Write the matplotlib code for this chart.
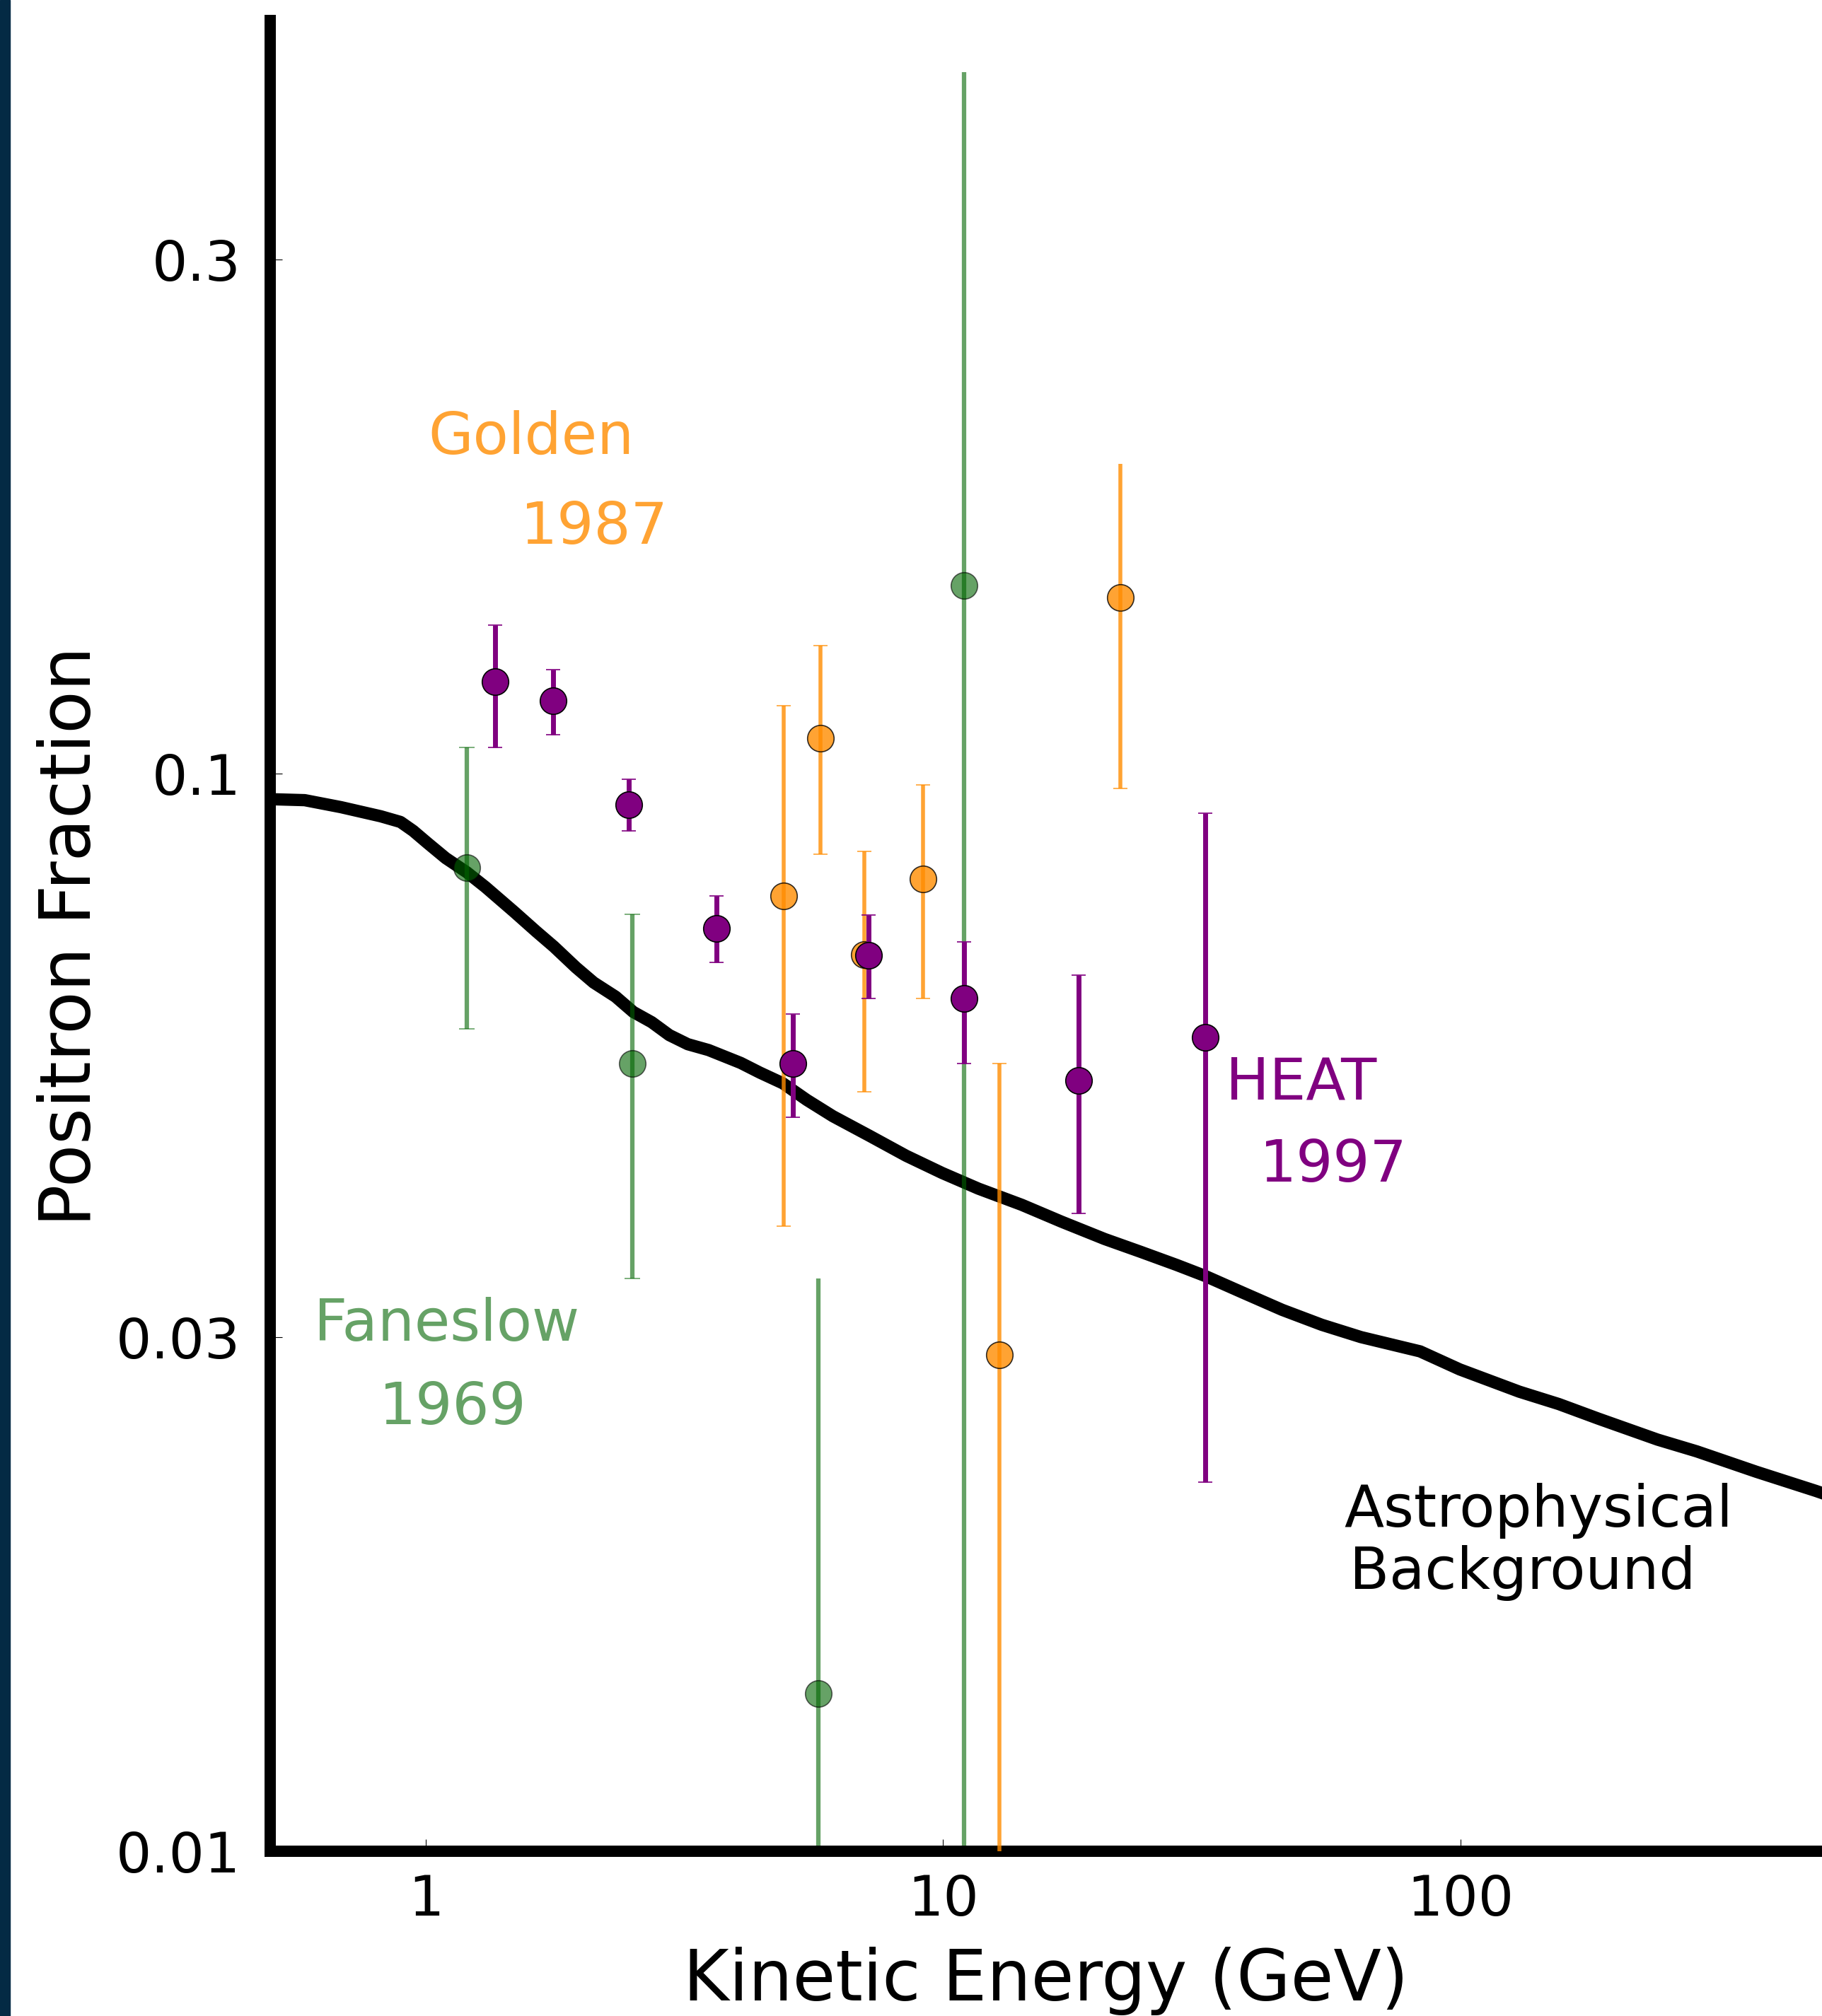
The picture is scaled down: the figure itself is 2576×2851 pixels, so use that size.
import numpy as np
import matplotlib
matplotlib.use('Agg')
import matplotlib.pyplot as plt
from matplotlib.patches import Rectangle

plt.rcParams['font.family'] = ['DejaVu Sans']

# HEAT 1997
heat_e = [1.36, 1.76, 2.47, 3.64, 5.13, 7.18, 10.96, 18.3, 32.1]
heat_f = [0.1218, 0.1169, 0.0936, 0.0718, 0.0538, 0.0678, 0.0619, 0.0519, 0.0569]
heat_lo = [0.1057, 0.1087, 0.0885, 0.0668, 0.0480, 0.0619, 0.0538, 0.0391, 0.0220]
heat_hi = [0.1374, 0.1249, 0.0988, 0.0770, 0.0598, 0.0739, 0.0698, 0.0650, 0.0919]

# Golden 1987
golden_e = [4.92, 5.80, 7.05, 9.13, 12.83, 21.98]
golden_f = [0.0770, 0.1079, 0.0679, 0.0798, 0.0289, 0.1458]
golden_lo = [0.0380, 0.0842, 0.0507, 0.0619, 0.005, 0.0969]
golden_hi = [0.1156, 0.1315, 0.0847, 0.0976, 0.0538, 0.1940]
golden_capped = [0, 1, 2, 3, 4]   # upper caps drawn

# Faneslow 1969
fane_e = [1.20, 2.51, 5.73, 10.96]
fane_f = [0.0818, 0.0538, 0.0140, 0.1496]
fane_lo = [0.0580, 0.0340, 0.005, 0.005]
fane_hi = [0.1057, 0.0740, 0.0340, 0.4477]
fane_capped = [0, 1]

# astrophysical background
bg_e = [0.50, 0.583, 0.685, 0.818, 0.893, 0.945, 1.008, 1.092, 1.20, 1.303,
        1.483, 1.633, 1.768, 1.95, 2.11, 2.326, 2.517, 2.732, 2.955, 3.208,
        3.52, 4.06, 4.42, 4.90, 5.45, 6.12, 7.22, 8.48, 9.96, 11.7,
        14.19, 16.92, 20.51, 24.08, 28.28, 32.04, 37.91, 45.22, 53.94, 64.24,
        83.56, 99.68, 129.9, 155.0, 184.9, 240.4, 286.4, 373.1, 486.1, 500.0]
bg_f = [0.0947, 0.0945, 0.0931, 0.0913, 0.0902, 0.0885, 0.0862, 0.0835, 0.0810, 0.0785,
        0.0744, 0.0714, 0.0691, 0.0661, 0.0640, 0.0621, 0.0601, 0.0588, 0.0572, 0.0561,
        0.0554, 0.0539, 0.0528, 0.0516, 0.0498, 0.0481, 0.0461, 0.0442, 0.0426, 0.0412,
        0.0398, 0.0384, 0.0370, 0.0360, 0.0350, 0.0342, 0.0330, 0.0318, 0.0308, 0.0300,
        0.0291, 0.0280, 0.0267, 0.0260, 0.0252, 0.0241, 0.0235, 0.0225, 0.0216, 0.0215]

x_ticks = [1, 10, 100]
x_ticklabels = ['1', '10', '100']
y_ticks = [0.01, 0.03, 0.1, 0.3]
y_ticklabels = ['0.01', '0.03', '0.1', '0.3']


def err(f, lo, hi):
    f = np.array(f)
    return [f - np.array(lo), np.array(hi) - f]


W, H = 2576, 2851
fig = plt.figure(figsize=(W / 100, H / 100), dpi=100)
fig.patches.append(Rectangle((0, 0), 14 / W, 1, transform=fig.transFigure,
                             color='#042a44', zorder=0))

ax = fig.add_axes([382 / W, (H - 2618) / H, 1 - 382 / W, (2618 - 29) / H])
ax.set_xscale('log')
ax.set_yscale('log')

ax.plot(bg_e, bg_f, color='k', lw=12.5, zorder=1, solid_joinstyle='round')

eb = ax.errorbar(fane_e, fane_f, yerr=err(fane_f, fane_lo, fane_hi), fmt='o',
                 color='darkgreen', alpha=0.6, ms=27, mec='k', mew=1.2,
                 elinewidth=4.5, capsize=8, capthick=2, zorder=2)
eb[1][1].set_markevery(fane_capped)
eb = ax.errorbar(golden_e, golden_f, yerr=err(golden_f, golden_lo, golden_hi), fmt='o',
                 color='darkorange', alpha=0.8, ms=27, mec='k', mew=1.2,
                 elinewidth=4.0, capsize=7.5, capthick=2, zorder=3)
eb[1][1].set_markevery(golden_capped)
ax.errorbar(heat_e, heat_f, yerr=err(heat_f, heat_lo, heat_hi), fmt='o',
            color='purple', ms=27, mec='k', mew=1.2,
            elinewidth=5.0, capsize=7.5, capthick=2, zorder=4)

ax.set_xlim(0.5, 500)
ax.set_ylim(0.01, 0.5)

for side in ['top', 'right']:
    ax.spines[side].set_visible(False)
for side in ['left', 'bottom']:
    ax.spines[side].set_linewidth(11.5)

ax.minorticks_off()
ax.set_xticks(x_ticks)
ax.set_xticklabels(x_ticklabels)
ax.set_yticks(y_ticks)
ax.set_yticklabels(y_ticklabels)
ax.tick_params(direction='in', length=12, width=0.8, labelsize=57)
ax.tick_params(axis='x', pad=22)
ax.tick_params(axis='y', pad=30)

ax.set_xlabel('Kinetic Energy (GeV)', fontsize=71)
ax.xaxis.set_label_coords(0.5, -0.052)
ax.set_ylabel('Positron Fraction', fontsize=71)
ax.yaxis.set_label_coords(-0.106, 0.5)

# labels
ax.text(0.1017, 0.7632, 'Golden', color='darkorange', alpha=0.8, fontsize=59,
        transform=ax.transAxes)
ax.text(0.1614, 0.7141, '1987', color='darkorange', alpha=0.8, fontsize=59,
        transform=ax.transAxes)
ax.text(0.0283, 0.2789, 'Faneslow', color='darkgreen', alpha=0.6, fontsize=59,
        transform=ax.transAxes)
ax.text(0.0702, 0.2333, '1969', color='darkgreen', alpha=0.6, fontsize=59,
        transform=ax.transAxes)
ax.text(0.6158, 0.4109, 'HEAT', color='purple', fontsize=59,
        transform=ax.transAxes)
ax.text(0.6376, 0.3658, '1997', color='purple', fontsize=59,
        transform=ax.transAxes)
ax.text(0.6919, 0.1773, 'Astrophysical', color='k', fontsize=59,
        transform=ax.transAxes)
ax.text(0.6956, 0.1433, 'Background', color='k', fontsize=59,
        transform=ax.transAxes)

fig.savefig('out.png', dpi=100)
